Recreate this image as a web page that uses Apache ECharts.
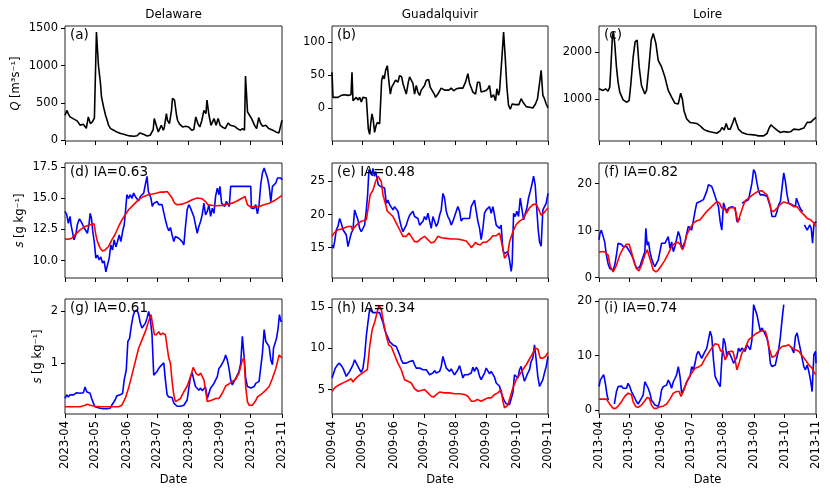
<!DOCTYPE html>
<html>
<head>
<meta charset="utf-8">
<script src="https://cdn.jsdelivr.net/npm/echarts@6/dist/echarts.min.js"></script>
<style>html,body{margin:0;padding:0;background:#fff}#c{width:830px;height:496px}</style>
</head>
<body>
<div id="c"></div>
<script>
// ---------- DATA ----------
const rivers = ['Delaware', 'Guadalquivir', 'Loire'];
const years = ['2023', '2009', '2013'];
const monthTicks = [0, 30, 61, 91, 122, 153, 183, 214]; // day offsets of Apr 1 ... Nov 1
const monthNames = ['04', '05', '06', '07', '08', '09', '10', '11'];
const panelLabels = ['(a)', '(b)', '(c)', '(d) IA=0.63', '(e) IA=0.48', '(f) IA=0.82', '(g) IA=0.61', '(h) IA=0.34', '(i) IA=0.74'];
const yMin = [-10, -50, 105, 8.6, 10.4, -0.1, 0.02, 2.05, -0.74];
const yMax = [1530, 124, 2550, 17.85, 27.8, 24.4, 2.24, 15.95, 20.44];
const yTicks = [[0, 500, 1000, 1500], [0, 50, 100], [1000, 2000], [10, 12.5, 15, 17.5], [15, 20, 25], [0, 10, 20], [1, 2], [5, 10, 15], [0, 10, 20]];
const yDecimals = [0, 0, 0, 1, 0, 0, 0, 0, 0];

// discharge Q [m3/s], [day since Apr 1, value]
const delQ = [[0,335],[2,400],[3,360],[5,313],[8,290],[12,260],[15,200],[18,215],[21,160],[23,313],[25,223],[27,246],[29,300],[31,1450],[33,1000],[35,760],[36,580],[38,447],[40,335],[41,290],[43,200],[45,156],[48,134],[51,112],[55,90],[58,80],[61,67],[64,58],[68,54],[71,60],[74,98],[78,76],[81,58],[84,67],[87,143],[88,290],[90,200],[92,112],[93,134],[95,200],[97,134],[98,178],[100,357],[101,268],[103,223],[105,400],[106,560],[108,537],[110,335],[111,268],[113,215],[116,178],[119,188],[122,178],[125,134],[127,143],[129,313],[131,223],[133,178],[135,268],[137,400],[139,357],[140,537],[142,335],[144,200],[147,290],[149,200],[151,290],[153,200],[155,178],[158,156],[161,232],[163,200],[167,188],[170,156],[173,134],[175,156],[177,134],[178,860],[180,380],[182,335],[184,290],[187,200],[189,156],[191,304],[193,223],[195,188],[198,200],[201,156],[205,134],[208,112],[211,98],[214,268]];
const guaQ = [[0,54],[1,16],[2.6,15],[5.9,16],[9.2,19],[12.5,20],[15.8,19],[18.8,20],[19.8,54],[20.8,11],[22.4,14],[24.1,16],[25.7,12],[27.4,16],[29,9],[30.7,16],[34,15],[35.3,16],[36,-32],[37.3,-40],[38.3,-24],[39.6,-9],[40.9,-19],[42.2,-37],[43.6,-27],[44.9,-22],[47.2,-24],[48.2,-22],[49.2,42],[50.5,49],[51.8,44],[53.1,57],[54.8,64],[56.1,44],[57.8,21],[59.1,31],[61,34],[63,42],[65.3,39],[67,49],[69,47],[70.3,37],[71.9,29],[73.6,21],[75.6,39],[76.9,47],[78.5,44],[80.2,37],[81.8,21],[83.5,34],[85.1,24],[86.8,19],[88.4,27],[90.1,26],[91.7,34],[93.4,42],[95.7,43],[97.4,31],[99.3,29],[101.3,21],[102.6,16],[104.9,21],[108.2,30],[111.5,27],[113.2,30],[115.8,27],[118.1,30],[120.5,26],[123.1,29],[126.4,30],[129.7,30],[132.3,39],[134.6,52],[136.3,37],[137.9,34],[139.6,24],[142.2,21],[144.2,39],[146.2,39],[147.8,24],[149.5,22],[152.1,26],[154.4,29],[156.1,34],[157.7,16],[160.1,20],[162,11],[163.4,29],[165,19],[166,26],[168.3,75],[170,115],[171.6,77],[173.3,31],[174.9,4],[176.6,-2],[178.5,6],[181.8,5],[185.1,5],[187.4,14],[189.1,9],[192.4,2],[195.7,1],[199,0],[201.6,6],[203.6,14],[205.6,37],[207.2,57],[208.9,19],[210.5,14],[212.2,6],[214,0]];
const loiQ = [[0,1214],[1.3,1180],[4,1180],[6.6,1214],[8.9,1164],[10.6,1250],[11.9,1750],[13.2,2320],[14.2,2430],[15.5,2180],[17.2,1680],[18.8,1357],[20.5,1143],[23.8,980],[27.1,930],[29.7,964],[31.4,1320],[33.7,1890],[35.6,2214],[37.6,2250],[39.6,1680],[41.9,1285],[45.2,1107],[46.9,1180],[49.2,1680],[51.5,2250],[53.5,2390],[56.1,2180],[58.4,1820],[61.7,1680],[65,1464],[68.3,1180],[71.6,1036],[74.9,907],[78.2,893],[80.5,1120],[82.2,1000],[83.8,750],[86.5,572],[89.8,500],[96.4,478],[99.7,428],[103,357],[106.3,320],[109.6,300],[112.9,286],[116.2,270],[119.5,320],[121.4,393],[123.4,336],[125.4,478],[127.4,357],[129.4,357],[132,500],[133.7,607],[135.3,500],[137.6,357],[140.9,286],[145.9,250],[152.5,236],[157.4,214],[162.4,214],[165.7,264],[167.6,371],[169.6,450],[172.3,393],[175.6,336],[178.9,286],[182.2,307],[185.5,293],[188.8,300],[192.1,357],[197,343],[202,379],[205.3,500],[206.9,464],[208.6,500],[210.9,550],[214,607]];

// salinity s [g/kg], upper row (obs = blue, model = red)
const delS1Obs = [[0,13.95],[1.7,13.7],[3.3,13.0],[5,13.55],[5.9,12.9],[7.6,13.0],[8.9,11.67],[10.6,12.07],[12.2,12.9],[14.2,13.36],[15.8,13.15],[17.5,13.2],[19.1,12.6],[20.8,12.75],[22.1,12.2],[23.8,13.0],[24.8,13.8],[26.1,13.4],[27.4,12.34],[29,11.4],[30.4,10.2],[32,10.45],[33.7,10.05],[35.3,10.3],[37,9.8],[38.6,9.97],[40.3,9.1],[41.9,9.65],[43.6,10.2],[45.2,11.26],[46.9,10.86],[48.5,11.67],[50.2,11.1],[51.8,11.53],[53.5,12.07],[55.1,11.53],[56.8,12.34],[58.4,12.88],[60.1,14.35],[61,15.3],[62.7,15.0],[64.4,15.3],[66,15.0],[67.7,15.43],[69.3,15.16],[71,15.0],[72.6,14.8],[74.3,15.16],[75.9,15.3],[77.6,15.43],[79.2,16.1],[80.9,16.77],[82.2,15.56],[83.5,15.3],[84.8,15.0],[86.1,14.35],[87.5,14.6],[89.1,14.5],[90.8,14.75],[92.4,14.5],[94.1,14.54],[95.7,14.5],[97.4,14.35],[99,13.28],[100.7,12.74],[102.3,12.4],[104,12.66],[105.6,12.07],[107.3,11.53],[108.9,11.94],[110.6,12.07],[112.2,11.8],[113.9,11.94],[115.5,11.53],[117.2,11.26],[118.8,12.74],[120.5,14.1],[122.1,14.5],[123.8,14.22],[125.4,14.1],[127,13.55],[128.7,12.88],[130.4,12.2],[132,12.74],[133.7,13.15],[135.3,13.68],[137,14.62],[138.6,13.68],[140.3,13.95],[141.9,14.5],[143.6,13.55],[145.2,14.22],[146.9,13.8],[148.5,15.16],[150.2,15.83],[151.8,15.3],[152.8,15.97],[154.4,14.62],[155.8,14.75],[157.4,14.35],[159.1,14.75],[160.7,14.54],[162,14.35],[163.4,15.97],[183.2,15.97],[183.8,14.22],[186.5,14.2],[188.1,14.5],[189.8,13.75],[191.4,14.5],[193,16.1],[194.7,17.04],[196.4,17.45],[198,17.04],[199.7,16.64],[201.3,15.97],[203,14.75],[204.6,15.97],[206.3,16.1],[207.9,16.24],[209.6,16.64],[211.2,16.77],[212.9,16.64],[214,16.5]];
const delS1Mod = [[0,11.75],[3.3,11.72],[6.6,11.8],[9.9,12.07],[14.9,12.47],[19.8,12.74],[24.8,12.88],[28.7,12.96],[30.4,12.07],[32,11.53],[34.7,11.0],[37,10.78],[39.6,10.86],[42.9,11.13],[46.2,11.67],[49.5,12.12],[52.8,12.74],[56.1,13.28],[59.4,13.68],[62.7,14.09],[67.7,14.5],[72.6,14.9],[77.6,15.16],[82.5,15.3],[87.5,15.37],[90.8,15.43],[94.1,15.51],[97.4,15.51],[100.7,15.56],[103.3,15.3],[105.6,15.03],[108,14.62],[110.6,14.49],[115.5,14.54],[120.5,14.7],[125.4,14.89],[130.4,15.03],[135.3,14.97],[138.6,14.75],[140.9,14.49],[145.2,14.44],[150.2,14.41],[155.1,14.44],[160.1,14.54],[165,14.62],[170,14.81],[174.9,15.03],[177.5,15.16],[179.9,14.49],[183.2,14.3],[186.5,14.35],[191.4,14.35],[196.4,14.49],[201.3,14.62],[206.3,14.81],[211.2,15.08],[214,15.24]];
const guaS1Obs = [[0,15.4],[1.3,14.9],[2.6,15.9],[4.3,17.7],[5.9,18.2],[7.6,19.4],[9.2,18.7],[10.9,17.7],[12.5,17.4],[14.2,16.9],[15.8,15.15],[17.5,16.2],[19.1,17.2],[20.8,17.7],[22.4,20.7],[24.1,19.9],[25.7,19.2],[27.4,17.9],[29,17.4],[30.7,17.7],[32.3,18.4],[34,20.7],[35.3,23.0],[36.6,26.8],[38,27.0],[39.3,26.0],[40.6,27.0],[41.9,25.8],[43.2,26.5],[44.6,26.3],[45.9,24.5],[47.2,24.7],[48.8,24.2],[50.5,24.2],[52.1,24.0],[53.8,21.7],[55.4,22.2],[57.1,21.5],[58.7,21.2],[60.4,20.7],[62,21.2],[63.7,21.0],[65.3,20.5],[67,19.2],[68.6,18.2],[70.3,17.4],[71.9,17.9],[73.6,18.4],[75.2,19.2],[76.9,19.9],[78.5,20.2],[80.2,20.5],[81.8,19.7],[83.5,19.9],[85.1,19.4],[86.8,18.4],[88.4,18.2],[90.1,19.0],[91.7,19.7],[93.4,19.2],[95,20.2],[96.7,19.0],[98.3,17.9],[100,19.7],[101.6,19.9],[103.3,18.2],[104.9,18.7],[106.6,19.9],[108.2,20.7],[109.9,23.2],[111.5,22.5],[113.2,20.5],[114.8,19.7],[116.5,19.2],[118.1,18.4],[119.8,19.0],[121.4,18.7],[123.1,20.5],[124.7,21.2],[126.4,20.5],[128,19.0],[129.7,19.4],[131.3,19.2],[133,19.4],[134.6,19.2],[136.3,19.4],[137.9,21.2],[139.6,21.5],[141.2,22.2],[142.9,20.5],[144.5,19.0],[146.2,17.9],[147.8,16.2],[149.5,17.9],[151.1,20.2],[152.8,20.7],[154.4,20.5],[156.1,21.2],[157.7,20.2],[159.4,21.2],[161,19.9],[162.7,18.4],[164.3,18.7],[166,17.9],[167.6,18.4],[169.3,14.6],[170.9,14.1],[172.6,13.9],[174.2,14.4],[175.9,13.1],[177.5,11.4],[178.5,12.6],[179.9,20.2],[181.5,19.7],[183.2,20.5],[184.8,19.7],[186.5,22.5],[188.1,22.2],[189.8,19.2],[191.4,19.0],[193.1,21.0],[194.7,22.5],[196.4,23.5],[198,24.5],[199.7,25.8],[201.3,24.5],[203,20.5],[204.3,17.7],[205.6,15.9],[207.2,15.2],[208.9,20.7],[210.5,21.0],[212.2,21.7],[214,23.2]];
const guaS1Mod = [[0,16.7],[2.6,17.3],[5.9,17.7],[9.2,17.8],[12.5,18.0],[15.8,18.2],[19.1,18.2],[20.1,17.7],[24.1,18.4],[29,19.0],[34,19.2],[35.6,19.2],[37.9,23.0],[40.6,23.7],[43.2,25.0],[45.5,25.8],[47.2,26.0],[48.8,25.0],[50.5,23.0],[52.8,21.7],[54.8,20.5],[57.1,20.2],[60.4,19.7],[63.7,18.7],[67,17.7],[70.3,16.7],[73.6,16.7],[76.2,17.2],[78.5,16.7],[81.8,15.9],[85.1,15.9],[88.4,16.4],[91.7,16.7],[95,16.2],[98.3,15.7],[101.6,15.9],[104.9,16.7],[108.2,16.5],[113.2,16.4],[118.1,16.3],[123.1,16.3],[128,16.2],[133,16.0],[136.3,15.4],[137.9,15.0],[140.3,15.4],[142.2,15.8],[144.5,15.5],[146.9,15.4],[149.5,15.8],[152.8,15.8],[156.1,16.2],[159.4,16.8],[162.7,16.8],[166,17.2],[167.6,17.0],[169.3,14.9],[170.9,13.4],[172.6,13.1],[174.2,14.1],[175.9,15.9],[179.2,17.4],[182.5,18.5],[185.8,19.0],[189.1,19.3],[192.4,20.2],[195.7,21.0],[199,21.5],[202.3,21.6],[205,20.7],[207.2,19.9],[209.6,20.2],[212.2,20.7],[214,21.0]];
const loiS1Obs = [[0,8.0],[1,9.4],[2.3,10.1],[4,10.5],[5.6,7.6],[7.3,4.8],[8.9,3.0],[10.6,1.9],[12.2,1.6],[13.9,1.6],[15.5,2.6],[17.2,4.8],[18.8,7.3],[20.5,6.9],[22.1,7.1],[23.8,6.6],[25.4,6.9],[27.1,6.6],[28.7,6.9],[30.4,5.5],[32,4.8],[33.7,4.1],[35.3,3.0],[37,1.9],[38.6,1.9],[40.3,2.3],[41.9,3.4],[43.6,3.0],[45.2,5.5],[46.2,10.5],[47.5,6.9],[48.8,7.6],[50.2,5.5],[51.8,4.1],[53.5,3.0],[55.1,2.3],[56.8,1.9],[58.4,3.7],[60.1,5.5],[61.7,7.3],[63.4,7.1],[65,7.3],[66.7,6.9],[68.3,8.7],[70,6.2],[71.6,7.6],[73.3,5.5],[74.9,6.6],[76.6,6.9],[78.2,9.8],[79.9,8.7],[81.5,6.2],[83.2,6.9],[84.8,7.6],[86.5,9.4],[88.1,10.9],[89.8,11.2],[91.4,10.1],[93.1,10.5],[94.7,14.1],[96.4,15.9],[98,16.2],[99.7,16.2],[101.3,16.6],[103,16.6],[104.6,16.9],[106.3,18.4],[107.9,19.8],[109.6,20.1],[111.2,19.4],[112.9,18.4],[114.5,17.3],[116.2,16.2],[117.8,15.1],[119.5,11.9],[121.1,10.1],[122.8,15.9],[124.4,14.8],[126.1,14.1],[127.7,14.8],[129.4,14.4],[131,15.1],[132.7,15.1],[134.3,14.8],[136,11.9],[137.6,11.6],[139.3,12.6],[140,null],[140.9,15.9],[142.6,15.5],[144.2,16.2],[145.9,15.9],[147.5,16.6],[149.2,16.6],[150.8,20.1],[152.5,23.0],[154.1,22.3],[155.8,20.1],[157.4,18.4],[159.1,17.6],[160.7,18.0],[162.4,17.6],[164,17.6],[165.7,17.3],[169,15.1],[170.6,13.0],[172.3,12.6],[173.9,13.0],[175.6,14.1],[177.2,15.5],[178.9,16.2],[180.5,19.1],[182.2,22.3],[183.8,20.5],[185.5,17.6],[187.1,15.9],[188.8,15.9],[190.4,15.5],[192.1,15.5],[193.7,15.1],[194.7,16.9],[196,16.6],[197.7,15.1],[199.3,14.4],[201,14.1],[201.8,null],[202.6,11.2],[203.6,10.9],[205.3,10.1],[206.9,10.1],[207.9,11.2],[209.3,10.5],[210.6,7.3],[211.9,11.2],[213.6,11.9],[214,11.6]];
const loiS1Mod = [[0,5.4],[2.3,5.5],[5.6,5.5],[8.9,4.8],[11.2,2.3],[13.9,1.2],[15.5,1.4],[17.2,2.6],[20.5,4.8],[23.8,6.2],[27.1,7.1],[29.7,7.1],[32,5.5],[34.3,3.4],[37,1.9],[39.3,1.4],[41.9,2.6],[45.2,4.8],[47.5,5.9],[49.2,5.5],[51.1,3.4],[53.5,1.6],[56.1,1.2],[58.4,1.6],[61.7,2.6],[65,3.7],[68.3,5.1],[71.6,6.6],[74.9,7.3],[78.2,7.5],[80.5,6.9],[82.5,5.9],[84.2,6.9],[86.5,9.1],[89.8,10.5],[93.1,11.6],[96.4,12.1],[99.7,12.3],[103,13.2],[106.3,14.1],[109.6,14.8],[112.9,15.5],[116.2,16.2],[118.8,15.9],[121.1,14.8],[123.4,14.9],[126.1,13.7],[128.4,14.8],[131,14.9],[133.3,14.9],[135.3,13.7],[136.9,11.7],[139.3,13.4],[141.9,15.1],[144.2,16.4],[147.5,16.9],[150.8,17.5],[154.1,18.0],[157.4,18.4],[160.7,18.5],[163.4,18.0],[165.7,17.6],[168.3,15.9],[169.9,14.2],[172.3,14.1],[175.6,14.8],[178.9,15.6],[182.2,16.1],[185.5,15.9],[188.8,15.6],[192.1,15.1],[195.4,15.1],[198.7,14.1],[202,13.4],[205.3,12.6],[208.6,12.3],[211.9,11.6],[214,10.9]];

// salinity s [g/kg], lower row (obs = blue, model = red)
const delS2Obs = [[0,0.32],[1.7,0.39],[3.3,0.35],[5,0.39],[6.6,0.42],[8.3,0.39],[9.9,0.40],[11.5,0.43],[14.8,0.42],[16.5,0.45],[18.1,0.43],[19.8,0.54],[21.4,0.45],[23.1,0.47],[24.7,0.42],[26.3,0.32],[28,0.23],[29.6,0.16],[31.3,0.13],[34.6,0.13],[37.9,0.12],[41.2,0.12],[44.5,0.13],[46.1,0.19],[47.8,0.19],[49.4,0.29],[51.1,0.37],[54.5,0.39],[56.8,0.42],[58.4,0.68],[60.4,0.87],[62,1.42],[63.7,1.48],[65.3,1.71],[67,1.90],[68.6,2.0],[71,2.03],[72.6,1.94],[74.3,1.77],[75.9,1.68],[77.6,1.71],[79.2,1.77],[80.9,1.87],[82.5,2.0],[84.2,1.84],[85.8,1.55],[87.5,0.77],[89.1,0.74],[90.8,0.84],[92.4,0.90],[94.1,0.94],[95.7,0.97],[97.4,1.01],[98.3,1.0],[99,0.68],[100.7,0.39],[102.3,0.35],[104,0.32],[105.6,0.34],[107.3,0.23],[110.6,0.17],[113.9,0.17],[117.2,0.19],[120.5,0.29],[122.1,0.52],[123.8,0.74],[125.4,0.82],[127,0.68],[128.7,0.55],[130.4,0.52],[132,0.48],[133.7,0.52],[135.3,0.47],[137,0.45],[138.6,0.54],[140.3,0.32],[141.9,0.35],[143.6,0.52],[146.9,0.61],[150.2,0.74],[151.8,0.90],[153.5,0.94],[155.1,0.97],[156.8,1.06],[158.4,1.16],[160.1,1.06],[161.7,0.90],[163.4,0.68],[165,0.58],[166.7,0.65],[168.3,0.71],[170,0.74],[171.6,0.84],[173.3,1.0],[174.9,1.52],[176.6,1.13],[178.2,0.71],[179.9,0.55],[183.2,0.52],[186.5,0.55],[188.1,0.61],[191.4,0.65],[194.7,1.19],[196.4,1.65],[198,1.42],[199.7,1.42],[201.3,1.32],[203,1.06],[204.6,0.97],[205.6,1.29],[206.9,1.26],[208.6,1.48],[210.2,1.68],[211.5,1.94],[212.9,1.81],[214,1.81]];
const delS2Mod = [[0,0.16],[8.3,0.16],[14.9,0.16],[19.8,0.19],[22.1,0.21],[24.8,0.19],[29.7,0.17],[34.7,0.16],[44.6,0.16],[52.8,0.16],[56.1,0.19],[59.4,0.32],[62.7,0.52],[66,0.77],[69.3,1.03],[72.6,1.29],[75.9,1.45],[79.2,1.61],[82.5,1.81],[84.8,1.94],[86.5,1.97],[88.1,1.55],[90.1,1.55],[92.4,1.61],[94.1,1.55],[96.4,1.58],[99,1.55],[100.7,1.32],[102.3,1.10],[104,1.0],[105.6,0.65],[107.3,0.39],[108.9,0.26],[110.6,0.24],[113.9,0.32],[117.2,0.45],[120.5,0.56],[123.8,0.74],[126.4,0.92],[128,0.90],[129.7,0.79],[132,0.77],[133.7,0.81],[135.3,0.79],[137,0.68],[138.6,0.48],[140.3,0.26],[141.9,0.24],[145.2,0.29],[148.5,0.32],[151.8,0.32],[155.1,0.42],[158.4,0.56],[161.7,0.60],[165,0.65],[168.3,0.69],[171.6,0.81],[174.9,1.06],[176.6,1.10],[178.2,0.55],[179.9,0.26],[181.5,0.19],[184.8,0.19],[188.1,0.28],[189.8,0.35],[191.4,0.35],[194.7,0.42],[198,0.48],[201.3,0.55],[204.6,0.71],[207.9,0.90],[211.2,1.16],[212.9,1.19],[214,1.10]];
const guaS2Obs = [[0,6.4],[1.7,6.2],[3.3,7.6],[5,7.9],[6.9,8.2],[9.2,7.9],[10.9,7.6],[12.5,7.4],[14.2,6.6],[15.8,6.8],[17.5,7.2],[19.1,7.2],[20.8,8.0],[22.4,8.6],[24.1,8.4],[25.7,7.8],[27.4,7.4],[29,7.1],[30.7,7.6],[32.3,9.0],[34,11.5],[35.6,13.1],[37.3,14.7],[38.9,14.5],[40.6,14.3],[42.2,14.5],[43.9,14.3],[45.5,14.1],[47.2,14.3],[48.8,13.7],[50.5,13.1],[52.1,12.3],[53.8,11.7],[55.4,11.3],[57.1,10.8],[58.7,10.6],[60.4,10.4],[62,10.4],[63.7,10.2],[65.3,10.2],[67,9.2],[68.6,8.6],[70.3,8.2],[71.9,8.0],[73.6,8.2],[75.2,8.1],[76.9,8.4],[78.5,8.6],[80.2,8.5],[81.8,8.0],[83.5,7.6],[85.1,7.4],[86.8,7.6],[88.4,7.5],[90.1,7.4],[91.7,7.5],[93.4,7.4],[95,7.6],[96.7,6.8],[98.3,6.6],[100,7.0],[101.6,7.3],[103.3,7.0],[104.9,6.8],[106.6,7.2],[108.2,7.8],[109.9,9.0],[111.5,8.8],[113.2,7.6],[114.8,7.5],[116.5,7.2],[118.1,7.5],[119.8,7.1],[121.4,6.8],[123.1,7.0],[124.7,7.4],[126.4,7.9],[128,7.7],[129.7,6.4],[131.3,6.8],[133,6.7],[134.6,6.8],[136.3,6.9],[137.9,7.0],[139.6,7.7],[141.2,7.2],[142.9,7.7],[144.5,7.4],[146.2,6.6],[147.8,6.2],[149.5,6.0],[151.1,7.0],[152.8,7.6],[154.4,7.6],[156.1,6.9],[157.7,7.2],[159.4,7.3],[161,6.5],[162.7,5.8],[164.3,5.7],[166,5.4],[167.6,4.6],[169.3,4.8],[170.9,3.6],[172.6,3.3],[174.2,3.3],[175.9,3.2],[177.5,3.4],[179.2,4.6],[180.8,6.8],[182.5,6.6],[184.1,6.4],[185.8,7.4],[187.4,7.8],[189.1,6.8],[190.7,6.0],[192.4,6.0],[194,7.0],[195.7,7.4],[197.3,8.4],[199,8.8],[200.6,10.4],[202.3,8.6],[203.9,6.6],[205.6,5.4],[207.2,5.4],[208.9,6.2],[210.5,7.0],[212.2,7.8],[214,9.0]];
const guaS2Mod = [[0,4.8],[2.6,5.2],[5.9,5.5],[9.2,5.7],[12.5,5.9],[15.8,6.1],[19.1,6.3],[20.8,5.9],[22.4,6.2],[25.7,6.6],[29,6.9],[32.3,7.2],[35,7.4],[37.3,10.2],[39.9,12.3],[42.2,13.1],[44.6,14.3],[46.5,15.2],[48.8,14.7],[51.1,13.1],[53.8,11.5],[56.1,10.4],[58.7,10.2],[62,9.2],[65.3,8.2],[68.6,7.4],[71.9,6.2],[75.2,6.0],[78.5,5.8],[81.8,5.1],[85.1,4.8],[88.4,4.9],[91.7,5.0],[95,4.6],[98.3,4.2],[100.6,4.1],[103.3,4.4],[106.6,4.7],[111.5,4.6],[116.5,4.6],[121.4,4.5],[126.4,4.5],[131.3,4.4],[134.6,4.2],[137.9,3.6],[141.2,3.6],[143.9,3.8],[147.8,3.6],[151.1,3.8],[154.4,4.0],[157.7,4.0],[161,4.4],[164.3,4.6],[167.6,5.0],[169.3,3.6],[170.9,2.8],[172.6,2.8],[174.2,3.1],[175.9,3.8],[179.2,5.2],[182.5,6.2],[185.8,6.8],[189.1,7.4],[192.4,8.0],[195.7,8.7],[199,9.4],[201.6,10.0],[203.9,9.9],[206.3,8.8],[208.9,8.8],[211.5,9.0],[214,9.5]];
const loiS2Obs = [[0,4.3],[1.3,5.5],[3,5.5],[4.6,6.5],[6.3,4.9],[7.9,2.8],[9.2,1.8],[10,null],[15.2,1.1],[15.5,1.5],[17.2,3.4],[18.8,4.3],[20.5,4.0],[22.1,4.4],[23.8,4.0],[25.4,4.3],[27.1,4.0],[28.7,4.9],[30.4,4.3],[32,3.4],[33.7,2.8],[35.3,2.2],[37,1.5],[38.6,1.1],[40.3,1.2],[41.9,2.2],[43.6,2.8],[45.2,5.2],[46.9,4.6],[48.5,4.0],[50.2,3.1],[51.8,1.8],[53.5,1.4],[55.1,0.9],[56.8,1.2],[58.4,0.7],[60.1,1.8],[61.7,3.7],[63.4,4.3],[65,4.4],[66.7,4.6],[68.3,5.5],[70,4.9],[71.6,4.0],[73.3,5.2],[74.9,5.8],[76.6,6.5],[78.2,8.0],[79.9,6.2],[81.5,3.1],[83.2,3.7],[84.8,4.3],[86.5,5.2],[88.1,5.5],[89.8,6.2],[91.4,8.0],[93.1,7.4],[94.7,8.6],[96.4,10.3],[98,10.8],[99.7,10.5],[101.3,9.5],[103,10.2],[104.6,10.8],[106.3,11.4],[107.9,12.9],[109.6,14.5],[111.2,13.5],[112.9,9.2],[114.5,6.2],[116.2,5.5],[117.8,4.9],[119.5,4.3],[121.1,9.2],[122.8,13.2],[124.4,12.3],[126.1,9.8],[127.7,10.8],[129.4,10.5],[131,9.5],[132.7,8.6],[134.3,8.3],[136,9.8],[137.6,11.4],[139.3,10.8],[140.9,11.4],[142.6,11.4],[144.2,10.8],[145.9,12.0],[147.5,11.7],[149.2,11.1],[150.8,12.9],[152.5,19.4],[154.1,19.1],[155.8,17.5],[157.4,16.0],[159.1,14.5],[160.7,15.1],[162.4,14.5],[164,14.2],[165.7,13.2],[167.3,11.7],[169,8.6],[170.6,8.0],[172.3,7.7],[173.9,8.3],[175.6,9.8],[177.2,11.1],[178.9,13.5],[180.5,16.6],[182.2,19.4],[183,null],[189.5,11.6],[192.1,10.5],[193.7,13.5],[195.4,14.2],[197,12.6],[198.7,11.1],[200.3,9.5],[202,8.0],[203.6,7.4],[205.3,8.3],[206.9,7.1],[208.6,5.5],[210.2,3.4],[211.9,10.2],[213.5,10.8],[214,8.6]];
const loiS2Mod = [[0,2.0],[4,2.0],[7.3,2.0],[8.9,1.8],[11.2,0.9],[13.9,0.3],[16.5,0.3],[18.8,0.7],[22.1,1.5],[25.4,2.5],[28.7,3.1],[30.4,3.2],[32,2.8],[33.7,1.5],[36.3,0.6],[38.6,0.5],[41.9,0.9],[45.2,1.7],[47.5,2.3],[49.5,2.2],[51.8,0.9],[54.1,0.3],[56.8,0.3],[60.1,0.6],[63.4,0.7],[66.7,1.1],[70,2.0],[73.3,3.1],[76.6,3.4],[79.1,3.4],[80.8,2.5],[82.5,3.1],[84.8,4.3],[88.1,5.8],[91.4,6.8],[94.7,7.7],[98,7.9],[101.3,8.3],[104.6,9.5],[107.9,10.5],[111.2,11.4],[114.5,12.2],[117.8,12.0],[120.1,10.8],[122.1,11.0],[124.4,9.2],[126.7,10.2],[129.4,10.8],[132,10.8],[134.3,9.2],[136,7.4],[138.6,8.9],[140.9,10.5],[144.2,11.4],[147.5,12.9],[150.8,13.4],[154.1,14.0],[157.4,14.3],[160.7,14.6],[164,14.5],[165.7,13.5],[167.3,11.7],[170.6,9.7],[173.9,10.0],[177.2,11.1],[180.5,11.7],[183.8,11.8],[187.1,12.0],[190.4,11.4],[193.7,11.1],[197,10.8],[200.3,10.0],[203.6,9.2],[206.9,8.3],[210.2,7.7],[212.5,6.8],[214,6.5]];

// ---------- LAYOUT / STYLE ----------
const FONT = 'DejaVu Sans';
const colLeft = [65, 332, 599];
const colWidth = [217, 216, 217];
const rowTop = [26, 163, 299];
const rowHeight = 115;
const nameGaps = [43, 39, 21];

const panelSeries = [
  [[delQ, '#000000']], [[guaQ, '#000000']], [[loiQ, '#000000']],
  [[delS1Obs, '#0000ff'], [delS1Mod, '#ff0000']],
  [[guaS1Obs, '#0000ff'], [guaS1Mod, '#ff0000']],
  [[loiS1Obs, '#0000ff'], [loiS1Mod, '#ff0000']],
  [[delS2Obs, '#0000ff'], [delS2Mod, '#ff0000']],
  [[guaS2Obs, '#0000ff'], [guaS2Mod, '#ff0000']],
  [[loiS2Obs, '#0000ff'], [loiS2Mod, '#ff0000']]
];

const grids = [], xAxes = [], yAxes = [], series = [], graphics = [];
for (let p = 0; p < 9; p++) {
  const r = Math.floor(p / 3), c = p % 3;
  grids.push({left: colLeft[c], top: rowTop[r], width: colWidth[c], height: rowHeight,
    show: true, borderColor: '#222', borderWidth: 1, backgroundColor: 'transparent', containLabel: false, outerBoundsMode: 'none'});
  const labLookup = {};
  monthTicks.forEach((d, i) => { labLookup[d] = years[c] + '-' + monthNames[i]; });
  xAxes.push({type: 'value', gridIndex: p, min: 0, max: 214, position: 'bottom',
    axisLine: {show: false, onZero: false}, splitLine: {show: false},
    axisTick: {show: true, length: 4, customValues: monthTicks, lineStyle: {color: '#000', width: 1}},
    axisLabel: {show: r === 2, customValues: monthTicks, rotate: 90, margin: 7, color: '#000',
      fontFamily: FONT, fontSize: 11.5, formatter: v => labLookup[v] || ''}});
  const dec = yDecimals[p];
  yAxes.push({type: 'value', gridIndex: p, min: yMin[p], max: yMax[p], position: 'left',
    axisLine: {show: false, onZero: false}, splitLine: {show: false},
    axisTick: {show: true, length: 4, customValues: yTicks[p], lineStyle: {color: '#000', width: 1}},
    axisLabel: {show: true, customValues: yTicks[p], margin: 7, color: '#000', fontFamily: FONT, fontSize: 11.5,
      formatter: v => Number(v).toFixed(dec)},
    name: c === 0 ? (r === 0 ? '{i|Q} [m³s⁻¹]' : '{i|s} [g kg⁻¹]') : '',
    nameLocation: 'middle', nameRotate: 90, nameGap: nameGaps[r],
    nameTextStyle: {color: '#000', fontFamily: FONT, fontSize: 11.5,
      rich: {i: {fontStyle: 'italic', fontFamily: FONT, fontSize: 11.5, color: '#000'}}}});
  panelSeries[p].forEach(([data, color]) => {
    series.push({type: 'line', xAxisIndex: p, yAxisIndex: p, data: data, showSymbol: false, symbol: 'none',
      connectNulls: false, clip: true, animation: false, silent: true,
      lineStyle: {color: color, width: 1.6}});
  });
  graphics.push({type: 'text', x: colLeft[c] + 5, y: rowTop[r] + 9.5, z: 100,
    style: {text: panelLabels[p], font: '13.5px "' + FONT + '"', fill: '#000', textVerticalAlign: 'middle', textAlign: 'left'}});
}
for (let c = 0; c < 3; c++) {
  graphics.push({type: 'text', x: colLeft[c] + colWidth[c] / 2, y: 15, z: 100,
    style: {text: rivers[c], font: '12px "' + FONT + '"', fill: '#000', textAlign: 'center', textVerticalAlign: 'middle'}});
  graphics.push({type: 'text', x: colLeft[c] + colWidth[c] / 2, y: 480, z: 100,
    style: {text: 'Date', font: '11.5px "' + FONT + '"', fill: '#000', textAlign: 'center', textVerticalAlign: 'middle'}});
}

const chart = echarts.init(document.getElementById('c'), null, {renderer: 'canvas'});
chart.setOption({animation: false, backgroundColor: '#fff', grid: grids, xAxis: xAxes, yAxis: yAxes, series: series, graphic: graphics});
</script>
</body>
</html>
